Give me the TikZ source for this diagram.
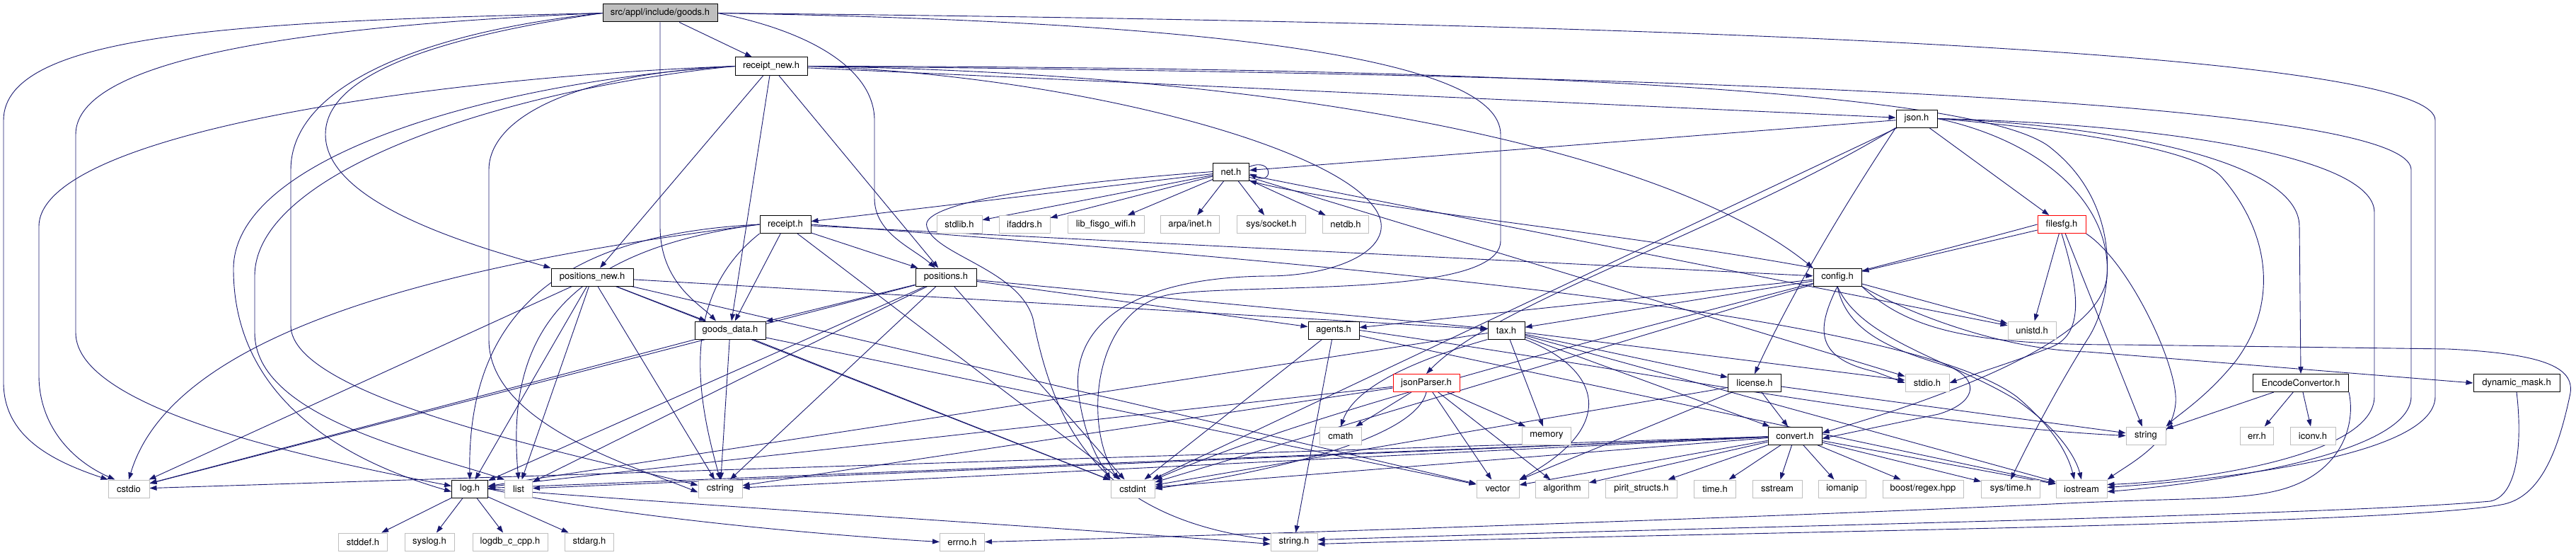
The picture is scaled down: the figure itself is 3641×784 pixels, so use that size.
\documentclass[tikz,border=0pt]{standalone}
\usepackage{fontspec}
\setmainfont{TeX Gyre Heros}
\usetikzlibrary{arrows.meta,calc}
\definecolor{edgec}{HTML}{191970}
\definecolor{grayb}{HTML}{BFBFBF}
\pgfdeclarelayer{back}
\pgfdeclarelayer{bg}
\pgfsetlayers{back,bg,main}
\begin{document}
\begin{tikzpicture}[x=1pt,y=-1pt,
  nbox/.style={rectangle, minimum height=25pt, inner sep=0pt, fill=white, line width=1pt, font=\fontsize{13}{15}\selectfont},
  doc/.style={nbox, draw=black},
  ext/.style={nbox, draw=grayb},
  trunc/.style={nbox, draw=red},
  edg/.style={draw=edgec, line width=0.9pt, -{Triangle[length=10pt,width=7pt]}},
]
\begin{pgfonlayer}{back}
\fill[white] (0,0) rectangle (3641,784);
\end{pgfonlayer}
\useasboundingbox (0,0) rectangle (3641,784);
% row 0
\node[doc, fill=grayb, minimum width=162pt] (goods) at (933,18.5) {src/appl/include/goods.h};
% row 1
\node[doc, minimum width=102pt] (rnew) at (1090,93.5) {receipt\_new.h};
% row 2
\node[doc, minimum width=58pt] (json) at (2709,167.5) {json.h};
% row 3
\node[doc, minimum width=51pt] (net) at (1740,242.5) {net.h};
% row 4
\node[doc, minimum width=72pt] (receipt) at (1110,317) {receipt.h};
\node[ext, minimum width=64pt] (stdlib) at (1356,317) {stdlib.h};
\node[ext, minimum width=72pt] (ifaddrs) at (1448,317) {ifaddrs.h};
\node[ext, minimum width=108pt] (fisgo) at (1563,317) {lib\_fisgo\_wifi.h};
\node[ext, minimum width=83pt] (arpa) at (1682,317) {arpa/inet.h};
\node[ext, minimum width=97pt] (socket) at (1797,317) {sys/socket.h};
\node[ext, minimum width=65pt] (netdb) at (1902,317) {netdb.h};
\node[trunc, minimum width=68pt] (filesfg) at (2914,317) {filesfg.h};
% row 5
\node[doc, minimum width=116pt] (posnew) at (837,391.5) {positions\_new.h};
\node[doc, minimum width=86pt] (pos) at (1337,391.5) {positions.h};
\node[doc, minimum width=68pt] (config) at (2597,391.5) {config.h};
% row 6
\node[doc, minimum width=100pt] (gdata) at (1032,466.5) {goods\_data.h};
\node[doc, minimum width=72pt] (agents) at (1885,466.5) {agents.h};
\node[doc, minimum width=52pt] (tax) at (2129,466.5) {tax.h};
\node[ext, minimum width=68pt] (unistd) at (2872,466.5) {unistd.h};
% row 7
\node[trunc, minimum width=94pt] (jparser) at (2016,541) {jsonParser.h};
\node[doc, minimum width=75pt] (license) at (2480,541) {license.h};
\node[ext, minimum width=62pt] (stdio) at (2724,541) {stdio.h};
\node[doc, minimum width=135pt] (enc) at (3252,541) {EncodeConvertor.h};
\node[doc, minimum width=122pt] (dmask) at (3557,541) {dynamic\_mask.h};
% row 8
\node[ext, minimum width=59pt] (cmath) at (1895,615.5) {cmath};
\node[ext, minimum width=69pt] (memory) at (2186,615.5) {memory};
\node[doc, minimum width=76pt] (convert) at (2537,615.5) {convert.h};
\node[ext, minimum width=56pt] (string) at (3033,615.5) {string};
\node[ext, minimum width=47pt] (err) at (3190,615.5) {err.h};
\node[ext, minimum width=64pt] (iconv) at (3269,615.5) {iconv.h};
% row 9
\node[ext, minimum width=58pt] (cstdio) at (182,690.5) {cstdio};
\node[doc, minimum width=51pt] (log) at (664,690.5) {log.h};
\node[ext, minimum width=39pt] (list) at (733,690.5) {list};
\node[ext, minimum width=62pt] (cstring) at (1018,690.5) {cstring};
\node[ext, minimum width=62pt] (cstdint) at (1601,690.5) {cstdint};
\node[ext, minimum width=60pt] (vector) at (2117,690.5) {vector};
\node[ext, minimum width=75pt] (algorithm) at (2208,690.5) {algorithm};
\node[ext, minimum width=101pt] (pirit) at (2320,690.5) {pirit\_structs.h};
\node[ext, minimum width=59pt] (timeh) at (2424,690.5) {time.h};
\node[ext, minimum width=70pt] (sstream) at (2512,690.5) {sstream};
\node[ext, minimum width=67pt] (iomanip) at (2604,690.5) {iomanip};
\node[ext, minimum width=114pt] (boost) at (2718,690.5) {boost/regex.hpp};
\node[ext, minimum width=83pt] (systime) at (2842,690.5) {sys/time.h};
\node[ext, minimum width=72pt] (iostream) at (2942,690.5) {iostream};
% row 10
\node[ext, minimum width=69pt] (stddef) at (513,765.5) {stddef.h};
\node[ext, minimum width=70pt] (syslog) at (607,765.5) {syslog.h};
\node[ext, minimum width=106pt] (logdb) at (721,765.5) {logdb\_c\_cpp.h};
\node[ext, minimum width=69pt] (stdarg) at (833,765.5) {stdarg.h};
\node[ext, minimum width=63pt] (errno) at (1360,765.5) {errno.h};
\node[ext, minimum width=66pt] (stringh) at (1829,765.5) {string.h};

\begin{pgfonlayer}{bg}
% straight connectors
\foreach \s/\t in {goods/rnew,
  rnew/json, rnew/posnew, rnew/pos, rnew/gdata,
  json/net, json/filesfg, json/cstdint,
  net/stdlib, net/ifaddrs, net/fisgo, net/arpa, net/socket, net/netdb, net/receipt, net/unistd, net/stdio,
  receipt/pos, receipt/gdata, receipt/config, receipt/cstdint,
  posnew/gdata, posnew/cstdio, posnew/log, posnew/list, posnew/cstring, posnew/cstdint, posnew/vector, posnew/tax,
  pos/gdata, pos/cstdio, pos/log, pos/list, pos/cstring, pos/cstdint, pos/agents, pos/tax,
  gdata/cstdio, gdata/cstring, gdata/cstdint, gdata/vector,
  agents/stringh, agents/cstdint, agents/iostream,
  tax/memory, tax/log, tax/license, tax/convert, tax/iostream, tax/stdio,
  config/unistd, config/agents, config/tax, config/cstdint,
  filesfg/config, filesfg/unistd, filesfg/string,
  jparser/cmath, jparser/memory, jparser/vector, jparser/algorithm, jparser/cstring, jparser/log,
  license/convert, license/string, license/vector, license/cstdint,
  convert/pirit, convert/timeh, convert/sstream, convert/iomanip, convert/boost, convert/systime,
  convert/iostream, convert/algorithm, convert/vector, convert/cstdint, convert/cstring, convert/list,
  convert/log, convert/cstdio,
  enc/string, enc/err, enc/iconv,
  log/stddef, log/syslog, log/logdb, log/stdarg}
  \draw[edg] (\s) -- (\t);

% goods.h curves
\draw[edg] (goods.west) .. controls (350,30) and (5,45) .. (5,170) -- (5,540) .. controls (5,615) and (70,650) .. (cstdio.north west);
\draw[edg] (goods.west) .. controls (450,35) and (107,80) .. (107,190) -- (107,470) .. controls (107,580) and (450,650) .. ($(log.west)+(0,-4)$);
\draw[edg] (goods.west) .. controls (600,45) and (411,120) .. (411,240) -- (411,460) .. controls (411,560) and (800,640) .. ($(cstring.west)+(0,-5)$);
\draw[edg] (goods.west) .. controls (600,55) and (460,110) .. (460,190) .. controls (460,290) and (680,350) .. (posnew.north west);
\draw[edg] (goods.east) .. controls (1150,45) and (1236,100) .. (1236,170) -- (1236,280) .. controls (1236,330) and (1290,350) .. ($(pos.north)+(-15,0)$);
\draw[edg] (goods.south) -- (933,320) .. controls (933,400) and (990,430) .. ($(gdata.north)+(-20,0)$);
\draw[edg] (goods.east) .. controls (1700,30) and (2121,80) .. (2121,190) -- (2121,340) .. controls (2121,420) and (1780,400) .. (1660,415) .. controls (1545,430) and (1530,600) .. ($(cstdint.north)+(-20,0)$);
\draw[edg] (goods.east) .. controls (2700,35) and (3442,90) .. (3442,170) -- (3442,560) .. controls (3442,650) and (3100,680) .. ($(iostream.east)+(0,-2)$);

% receipt_new.h curves
\draw[edg] (rnew.west) .. controls (600,110) and (55,190) .. (55,320) -- (55,530) .. controls (55,600) and (100,650) .. ($(cstdio.north west)+(10,0)$);
\draw[edg] (rnew.west) .. controls (700,115) and (330,220) .. (330,380) .. controls (330,540) and (450,640) .. ($(log.west)+(0,4)$);
\draw[edg] (rnew.west) .. controls (720,125) and (360,240) .. (360,390) -- (360,470) .. controls (360,590) and (600,640) .. (list.north west);
\draw[edg] (rnew.west) .. controls (800,105) and (691,170) .. (691,240) -- (691,480) .. controls (691,600) and (900,660) .. ($(cstring.west)+(0,5)$);
\draw[edg] (rnew.east) .. controls (1500,105) and (1870,200) .. (1940,290) .. controls (1985,345) and (1900,390) .. (1790,390) .. controls (1600,392) and (1510,460) .. (1525,560) .. controls (1535,630) and (1560,660) .. (cstdint.north west);
\draw[edg] (rnew.east) .. controls (2900,110) and (3408,170) .. (3408,240) -- (3408,560) .. controls (3408,645) and (3100,685) .. ($(iostream.east)+(0,4)$);
\draw[edg] (rnew.east) .. controls (2300,95) and (2820,140) .. (2900,210) .. controls (3000,290) and (2990,420) .. (2950,480) .. controls (2900,560) and (2860,640) .. (systime.north);
\draw[edg] (rnew.east) .. controls (1900,105) and (2380,230) .. (config.north west);

% json.h curves
\draw[edg] (json.east) .. controls (2950,185) and (3110,215) .. (3140,250) .. controls (3210,330) and (3220,430) .. (3160,510) .. controls (3120,560) and (3080,585) .. (string.north east);
\draw[edg] (json.east) .. controls (2950,175) and (3250,220) .. (3250,320) -- (enc.north);
\draw[edg] (json.east) .. controls (3050,175) and (3356,220) .. (3356,300) -- (3356,560) .. controls (3356,645) and (3100,680) .. ($(iostream.east)+(0,-6)$);
\draw[edg] (json.east) .. controls (2890,200) and (2985,290) .. (2978,390) .. controls (2970,490) and (2700,575) .. ($(convert.east)+(0,-4)$);
\draw[edg] (json.south west) .. controls (2450,320) and (2110,430) .. (jparser.north);
\draw[edg] (json.south west) .. controls (2600,300) and (2530,420) .. (license.north);

% net.h curves
\draw[edg] ($(net.east)+(0,-7)$) .. controls (1800,222) and (1800,262) .. ($(net.east)+(0,3)$);
\draw[edg] (net.west) .. controls (1450,262) and (1300,290) .. (1310,320) .. controls (1320,360) and (1440,380) .. (1460,450) .. controls (1490,600) and (1550,730) .. ($(stringh.west)+(0,-3)$);
\draw[edg] (config.north west) .. controls (2300,330) and (1900,290) .. (net.south east);

% receipt.h curves
\draw[edg] (receipt.west) .. controls (700,365) and (250,450) .. (cstdio.north);
\draw[edg] (receipt.west) .. controls (820,330) and (660,420) .. (log.north);
\draw[edg] (receipt.west) .. controls (790,355) and (715,480) .. (list.north);
\draw[edg] (receipt.south west) .. controls (960,420) and (985,560) .. (cstring.north);
\draw[edg] (receipt.east) .. controls (2000,380) and (2700,450) .. (2850,560) .. controls (2910,610) and (2925,650) .. ($(iostream.north)+(-10,0)$);

% tax.h, agents.h, jsonParser.h curves
\draw[edg] (tax.south west) .. controls (1960,520) and (1910,560) .. (cmath.north);
\draw[edg] (tax.south east) .. controls (2260,520) and (2290,600) .. (vector.north east);
\draw[edg] (agents.east) .. controls (2300,520) and (2700,600) .. (string.west);
\draw[edg] (jparser.south) .. controls (2000,620) and (1800,665) .. (cstdint.east);

% config.h curves
\draw[edg] (config.south east) .. controls (2700,470) and (2800,487) .. (3000,487) -- (3460,493) .. controls (3600,500) and (3642,520) .. (3632,560) .. controls (3615,640) and (3590,700) .. (3540,712) .. controls (3400,742) and (2400,752) .. ($(stringh.east)+(0,3)$);
\draw[edg] (config.south east) .. controls (2720,455) and (2850,495) .. (2950,497) -- (dmask.west);
\draw[edg] (config.south) .. controls (2612,480) and (2700,500) .. (2760,520) .. controls (2800,540) and (2790,570) .. (2740,585) -- ($(convert.east)+(0,4)$);
\draw[edg] (config.south) .. controls (2570,460) and (2560,505) .. (2650,525) -- (stdio.west);
\draw[edg] (config.south) .. controls (2630,480) and (2760,510) .. (2850,565) .. controls (2915,610) and (2935,650) .. (iostream.north);

% filesfg.h curves
\draw[edg] (filesfg.south) .. controls (2935,400) and (2950,470) .. (2900,490) .. controls (2850,510) and (2800,525) .. (stdio.east);
\draw[edg] (filesfg.south east) .. controls (3010,370) and (3080,520) .. (3075,570) .. controls (3070,625) and (3010,655) .. (iostream.north east);
\draw[edg] (filesfg.west) .. controls (2500,420) and (1900,560) .. (cstdint.north east);

% bottom loops
\draw[edg] (enc.south east) .. controls (3330,600) and (3310,665) .. (3230,690) .. controls (3170,708) and (3100,702) .. (2900,712) .. controls (2400,735) and (1600,760) .. (errno.east);
\draw[edg] (dmask.south) .. controls (3565,620) and (3560,700) .. (3520,708) .. controls (3300,728) and (2400,745) .. ($(stringh.east)+(0,-3)$);
\draw[edg] (log.east) .. controls (900,735) and (1200,758) .. (errno.west);
\draw[edg] (log.east) .. controls (1000,715) and (1500,745) .. ($(stringh.west)+(0,3)$);
\end{pgfonlayer}
\end{tikzpicture}
\end{document}
